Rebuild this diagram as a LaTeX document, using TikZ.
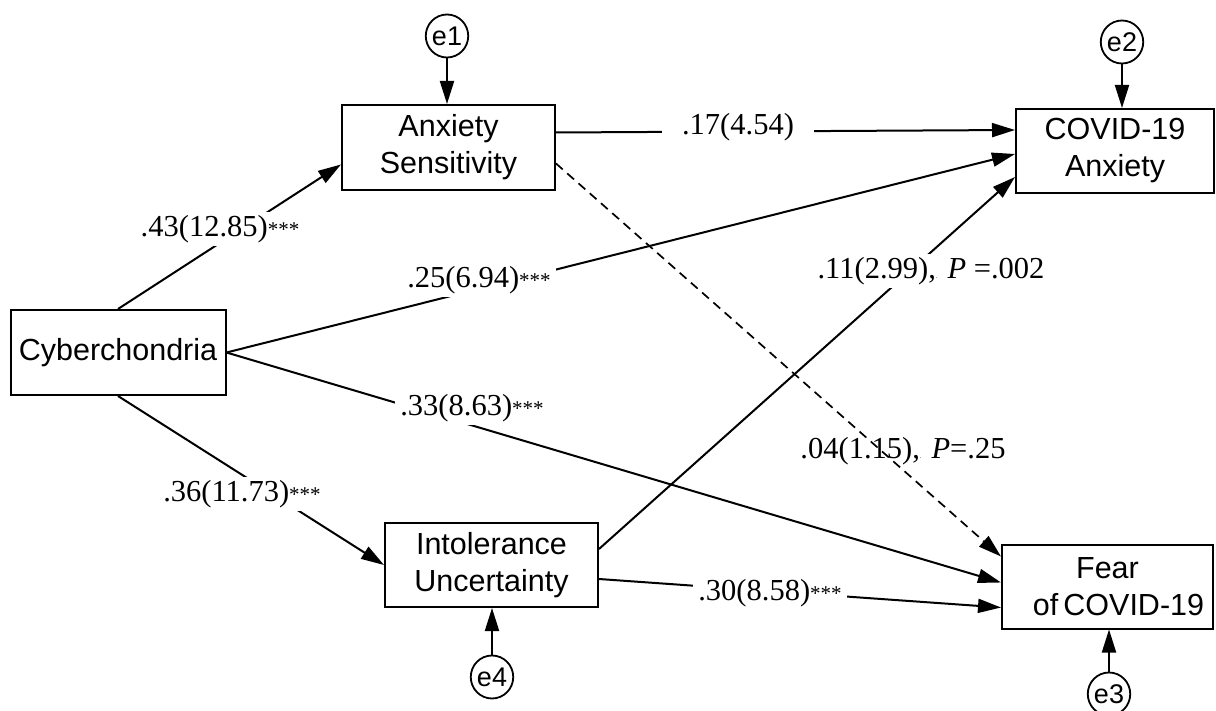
\documentclass[tikz,border=0pt]{standalone}
\usepackage{fontspec}
\setmainfont{Liberation Serif}
\newfontfamily\arialfont{Liberation Sans}
\usetikzlibrary{arrows.meta,shapes.geometric}
\tikzset{
  varbox/.style={draw, line width=2pt, inner sep=0pt, align=center,
    font=\arialfont\fontsize{30.5}{37}\selectfont},
  errnode/.style={draw, ellipse, line width=1.8pt, inner sep=0pt,
    minimum width=40pt, minimum height=43pt, font=\arialfont\fontsize{27}{27}\selectfont},
  arr/.style={line width=2pt, -{Triangle[length=23pt,width=14pt]}},
  dashedarr/.style={line width=1.7pt, dash pattern=on 9pt off 6pt, -{Triangle[length=23pt,width=14pt]}},
  lab/.style={fill=white, inner xsep=5pt, inner ysep=3pt,
    font=\fontsize{30.5}{30.5}\selectfont},
}
\newcommand{\stars}{{\fontsize{21}{21}\selectfont ***}}
\begin{document}
\begin{tikzpicture}[x=1pt,y=-1pt]
\useasboundingbox (0,0) rectangle (1216,711);
\clip (0,0) rectangle (1216,711);
% variables
\node[varbox, minimum width=213pt, minimum height=85pt] (as) at (448.5,147.5) {Anxiety\\Sensitivity};
\node[varbox, minimum width=198pt, minimum height=84pt] (ca) at (1115,151) {COVID-19\\Anxiety};
\node[varbox, minimum width=215pt, minimum height=85pt] (cyb) at (118,352.5) {Cyberchondria};
\node[varbox, minimum width=213pt, minimum height=84pt] (iu) at (491.5,565) {Intolerance\\Uncertainty};
\node[varbox, minimum width=211pt, minimum height=84pt] (fear) at (1107.5,586.5) {Fear\\\hspace*{22pt}of\,COVID-19};
% errors
\node[errnode] (e1) at (447,36) {e1};
\node[errnode] (e2) at (1122,42) {e2};
\node[errnode] (e4) at (492,677) {e4};
\node[errnode] (e3) at (1109,694) {e3};
% error arrows
\draw[arr] (e1.south) -- (e1.south |- as.north);
\draw[arr] (e2.south) -- (e2.south |- ca.north);
\draw[arr] (e4.north) -- (e4.north |- iu.south);
\draw[arr] (e3.north) -- (e3.north |- fear.south);
% paths
\draw[arr] (cyb.north) -- ([yshift=-17pt]as.west);
\draw[arr] (cyb.east) -- ([yshift=-3pt]ca.west);
\draw[arr] ([yshift=15pt]as.east) -- ([yshift=21pt]ca.west);
\draw[arr] ([yshift=16pt]iu.east) -- ([yshift=-26pt]ca.west);
\draw[arr] (cyb.east) -- ([yshift=4pt]fear.west);
\draw[arr] (cyb.south) -- (iu.west);
\draw[arr] ([yshift=-14pt]iu.east) -- ([yshift=-21pt]fear.west);
% labels
\node[lab] (l1) at (220,229) {.43(12.85)\stars};
\node[lab] (l2) at (479,280) {.25(6.94)\stars};
\node[lab, inner xsep=20pt] (l3) at (738,127) {.17(4.54)};
\node[lab] (l4) at (931,271) {.11(2.99),{\fontsize{6}{6}\selectfont .} \textit{P} =.002};
\node[lab] (l6) at (472,408) {.33(8.63)\stars};
\node[lab] (l7) at (242,494) {.36(11.73)\stars};
\node[lab] (l8) at (770,593) {.30(8.58)\stars};
\node[lab, fill=none] (l5) at (903,451) {.04(1.15),{\fontsize{6}{6}\selectfont .} \textit{P}=.25};
\draw[dashedarr] ([yshift=-16pt]as.east) -- ([yshift=30pt]fear.west);
\end{tikzpicture}
\end{document}
